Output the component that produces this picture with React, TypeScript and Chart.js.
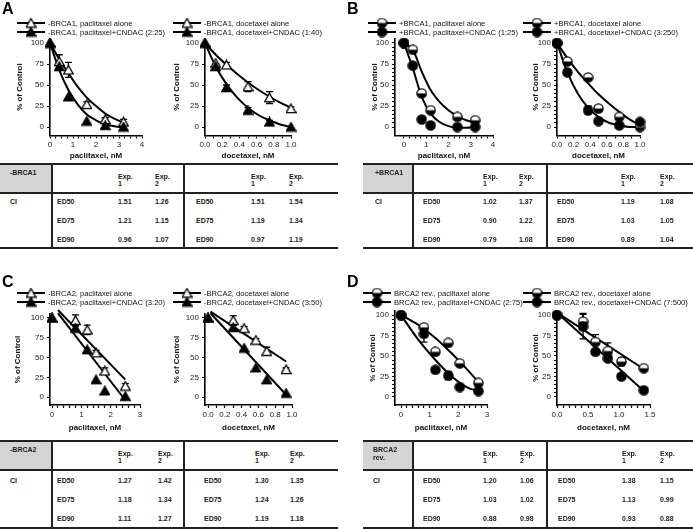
import React, { useEffect, useRef } from 'react';
import { Chart, registerables } from 'chart.js';

Chart.register(...registerables);

const FONT = '"Liberation Sans", Arial, Helvetica, sans-serif';

// ---------------- Panel A (-BRCA1) ----------------
const aPacDose = [0, 0.4, 0.8, 1.6, 2.4, 3.2];
const aPacAlone = [100, 78, 68, 27, 9, 6];
const aPacAloneErr = [0, 8, 9, 3, 2, 3];
const aPacCombo = [100, 72, 36, 7, 2, 0];
const aPacComboErr = [0, 3, 0, 0, 0, 0];
const aPacFitDose = [0, 0.4, 0.8, 1.2, 1.6, 2.0, 2.4, 2.8, 3.2];
const aPacFitAlone = [100, 81, 64, 48, 35, 25, 16, 10, 5];
const aPacFitCombo = [100, 68, 44, 27, 15, 8, 3, 1, -1];

const aDocDose = [0, 0.125, 0.25, 0.5, 0.75, 1.0];
const aDocAlone = [100, 76, 74, 48, 35, 22];
const aDocAloneErr = [0, 0, 3, 6, 7, 2];
const aDocCombo = [100, 72, 47, 20, 6, 0];
const aDocComboErr = [0, 3, 3, 3, 2, 0];
const aDocFitDose = [0, 0.125, 0.25, 0.375, 0.5, 0.625, 0.75, 0.875, 1.0];
const aDocFitAlone = [100, 86, 74, 63, 53, 44, 36, 29, 23];
const aDocFitCombo = [100, 72, 51, 35, 23, 14, 8, 3, 0];

// ---------------- Panel B (+BRCA1) ----------------
const bPacDose = [0, 0.4, 0.8, 1.2, 2.4, 3.2];
const bPacAlone = [100, 92, 40, 20, 12, 8];
const bPacAloneErr = [0, 3, 3, 3, 3, 3];
const bPacCombo = [100, 73, 9, 2, 0, 0];
const bPacComboErr = [0, 3, 3, 2, 0, 0];
const bPacFitDose = [0, 0.4, 0.8, 1.2, 1.6, 2.0, 2.4, 2.8, 3.2];
const bPacFitAlone = [100, 92, 66, 44, 30, 20, 13, 8, 5];
const bPacFitCombo = [100, 70, 36, 16, 6, 1, -1, -1, 0];

const bDocDose = [0, 0.125, 0.375, 0.5, 0.75, 1.0];
const bDocAlone = [100, 78, 59, 22, 12, 0];
const bDocAloneErr = [0, 3, 3, 3, 3, 0];
const bDocCombo = [100, 65, 20, 7, 2, 6];
const bDocComboErr = [0, 3, 5, 2, 0, 0];
const bDocFitDose = [0, 0.125, 0.25, 0.375, 0.5, 0.625, 0.75, 0.875, 1.0];
const bDocFitAlone = [100, 82, 66, 52, 39, 28, 18, 9, 2];
const bDocFitCombo = [100, 65, 40, 23, 12, 5, 2, 0, 0];

// ---------------- Panel C (-BRCA2) ----------------
const cPacDose = [0, 0.8, 1.2, 1.5, 1.8, 2.5];
const cPacAlone = [100, 97, 85, 56, 33, 14];
const cPacAloneErr = [0, 7, 6, 3, 4, 3];
const cPacCombo = [100, 87, 60, 22, 8, 1];
const cPacComboErr = [0, 3, 0, 0, 0, 0];
const cPacFitDose = [0.2, 2.5];
const cPacFitAlone = [110, 22];
const cPacFitCombo = [106, -4];

const cDocDose = [0, 0.3, 0.43, 0.57, 0.7, 0.93];
const cDocAlone = [100, 97, 87, 72, 58, 35];
const cDocAloneErr = [0, 6, 2, 2, 5, 2];
const cDocCombo = [100, 88, 62, 37, 22, 5];
const cDocComboErr = [0, 3, 0, 0, 0, 0];
const cDocFitDose = [0.03, 0.93];
const cDocFitAlone = [108, 45];
const cDocFitCombo = [106, 3];

// ---------------- Panel D (BRCA2 rev.) ----------------
const dPacDose = [0, 0.8, 1.2, 1.65, 2.05, 2.7];
const dPacAlone = [100, 85, 55, 66, 41, 17];
const dPacAloneErr = [0, 3, 0, 4, 3, 3];
const dPacCombo = [100, 77, 33, 26, 12, 7];
const dPacComboErr = [0, 10, 0, 5, 0, 0];
const dPacFitDose = [0, 0.6, 1.2, 1.8, 2.4, 2.7];
const dPacFitAlone = [100, 88, 72, 52, 30, 18];
const dPacFitCombo = [100, 70, 45, 24, 10, 8];

const dDocDose = [0, 0.42, 0.62, 0.82, 1.04, 1.4];
const dDocAlone = [100, 92, 67, 56, 43, 35];
const dDocAloneErr = [0, 10, 9, 10, 5, 0];
const dDocCombo = [100, 86, 55, 47, 25, 8];
const dDocComboErr = [0, 15, 0, 0, 3, 0];
const dDocFitDose = [0, 1.4];
const dDocFitAlone = [103, 34];
const dDocFitCombo = [103, 7];

// ---------------- ticks ----------------
const yTicksPlain = [0, 25, 50, 75, 100];
const yTicksMinor = [0, 5, 10, 15, 20, 25, 30, 35, 40, 45, 50, 55, 60, 65, 70, 75, 80, 85, 90, 95, 100];
const xTicksPac4 = [0, 0.25, 0.5, 0.75, 1, 1.25, 1.5, 1.75, 2, 2.25, 2.5, 2.75, 3, 3.25, 3.5, 3.75, 4];
const xTicksPac3 = [0, 0.2, 0.4, 0.6, 0.8, 1, 1.2, 1.4, 1.6, 1.8, 2, 2.2, 2.4, 2.6, 2.8, 3];
const xTicksDoc1 = [0, 0.1, 0.2, 0.3, 0.4, 0.5, 0.6, 0.7, 0.8, 0.9, 1.0];
const xTicksDoc15 = [0, 0.1, 0.2, 0.3, 0.4, 0.5, 0.6, 0.7, 0.8, 0.9, 1.0, 1.1, 1.2, 1.3, 1.4, 1.5];

// ---------------- tables ----------------
const edLabels = ['ED50', 'ED75', 'ED90'];
const aPacExp1 = ['1.51', '1.21', '0.96'];
const aPacExp2 = ['1.26', '1.15', '1.07'];
const aDocExp1 = ['1.51', '1.19', '0.97'];
const aDocExp2 = ['1.54', '1.34', '1.19'];
const bPacExp1 = ['1.02', '0.90', '0.79'];
const bPacExp2 = ['1.37', '1.22', '1.08'];
const bDocExp1 = ['1.19', '1.03', '0.89'];
const bDocExp2 = ['1.08', '1.05', '1.04'];
const cPacExp1 = ['1.27', '1.18', '1.11'];
const cPacExp2 = ['1.42', '1.34', '1.27'];
const cDocExp1 = ['1.30', '1.24', '1.19'];
const cDocExp2 = ['1.35', '1.26', '1.18'];
const dPacExp1 = ['1.20', '1.03', '0.88'];
const dPacExp2 = ['1.06', '1.02', '0.98'];
const dDocExp1 = ['1.38', '1.13', '0.93'];
const dDocExp2 = ['1.15', '0.99', '0.88'];

type MarkerKind = 'triOpen' | 'triFilled' | 'circHalf' | 'circFilled';

function makeMarker(kind: MarkerKind): HTMLCanvasElement {
  const c = document.createElement('canvas');
  c.width = 11;
  c.height = 11;
  const ctx = c.getContext('2d') as CanvasRenderingContext2D;
  ctx.lineWidth = 1.3;
  ctx.strokeStyle = '#000';
  if (kind === 'triOpen' || kind === 'triFilled') {
    ctx.beginPath();
    ctx.moveTo(5.5, 1);
    ctx.lineTo(10.3, 9.6);
    ctx.lineTo(0.7, 9.6);
    ctx.closePath();
    ctx.fillStyle = kind === 'triOpen' ? '#fff' : '#000';
    ctx.fill();
    ctx.stroke();
  } else {
    ctx.beginPath();
    ctx.arc(5.5, 5.5, 4.6, 0, Math.PI * 2);
    ctx.fillStyle = kind === 'circFilled' ? '#000' : '#fff';
    ctx.fill();
    if (kind === 'circHalf') {
      ctx.beginPath();
      ctx.arc(5.5, 5.5, 4.6, 0, Math.PI);
      ctx.closePath();
      ctx.fillStyle = '#000';
      ctx.fill();
    }
    ctx.beginPath();
    ctx.arc(5.5, 5.5, 4.6, 0, Math.PI * 2);
    ctx.stroke();
  }
  return c;
}

interface Spec {
  box: { left: number; top: number; width: number; height: number };
  plot: { left: number; right: number; top: number; bottom: number };
  yTitleX: number;
  legendX: number;
  legendY: number;
  labels: string[];
  xTitle: string;
  xMin: number;
  xMax: number;
  xTicks: number[];
  xMajor: number;
  xDigits: number;
  yTicks: number[];
  markers: MarkerKind[];
  dose: number[];
  alone: number[];
  aloneErr: number[];
  combo: number[];
  comboErr: number[];
  fitDose: number[];
  fitAlone: number[];
  fitCombo: number[];
}

const Y_MIN = -10;
const Y_MAX = 105;

const specs: Spec[] = [
  {
    box: { left: 0, top: 0, width: 180, height: 161 },
    plot: { left: 50, right: 142, top: 38.8, bottom: 135.4 },
    yTitleX: 20, legendX: 17, legendY: 23,
    labels: ['-BRCA1, paclitaxel alone', '-BRCA1, paclitaxel+CNDAC (2:25)'],
    xTitle: 'paclitaxel, nM', xMin: 0, xMax: 4, xTicks: xTicksPac4, xMajor: 1, xDigits: 0,
    yTicks: yTicksPlain, markers: ['triOpen', 'triFilled'],
    dose: aPacDose, alone: aPacAlone, aloneErr: aPacAloneErr, combo: aPacCombo, comboErr: aPacComboErr,
    fitDose: aPacFitDose, fitAlone: aPacFitAlone, fitCombo: aPacFitCombo,
  },
  {
    box: { left: 172, top: 0, width: 173, height: 161 },
    plot: { left: 205, right: 291, top: 38.8, bottom: 135.4 },
    yTitleX: 177, legendX: 173, legendY: 23,
    labels: ['-BRCA1, docetaxel alone', '-BRCA1, docetaxel+CNDAC (1:40)'],
    xTitle: 'docetaxel, nM', xMin: 0, xMax: 1.0, xTicks: xTicksDoc1, xMajor: 0.2, xDigits: 1,
    yTicks: yTicksPlain, markers: ['triOpen', 'triFilled'],
    dose: aDocDose, alone: aDocAlone, aloneErr: aDocAloneErr, combo: aDocCombo, comboErr: aDocComboErr,
    fitDose: aDocFitDose, fitAlone: aDocFitAlone, fitCombo: aDocFitCombo,
  },
  {
    box: { left: 345, top: 0, width: 185, height: 161 },
    plot: { left: 395, right: 493, top: 38.8, bottom: 135.4 },
    yTitleX: 375, legendX: 368, legendY: 23,
    labels: ['+BRCA1, paclitaxel alone', '+BRCA1, paclitaxel+CNDAC (1:25)'],
    xTitle: 'paclitaxel, nM', xMin: -0.4, xMax: 4, xTicks: xTicksPac4, xMajor: 1, xDigits: 0,
    yTicks: yTicksMinor, markers: ['circHalf', 'circFilled'],
    dose: bPacDose, alone: bPacAlone, aloneErr: bPacAloneErr, combo: bPacCombo, comboErr: bPacComboErr,
    fitDose: bPacFitDose, fitAlone: bPacFitAlone, fitCombo: bPacFitCombo,
  },
  {
    box: { left: 518, top: 0, width: 175, height: 161 },
    plot: { left: 557, right: 640, top: 38.8, bottom: 135.4 },
    yTitleX: 536, legendX: 523, legendY: 23,
    labels: ['+BRCA1, docetaxel alone', '+BRCA1, docetaxel+CNDAC (3:250)'],
    xTitle: 'docetaxel, nM', xMin: 0, xMax: 1.0, xTicks: xTicksDoc1, xMajor: 0.2, xDigits: 1,
    yTicks: yTicksMinor, markers: ['circHalf', 'circFilled'],
    dose: bDocDose, alone: bDocAlone, aloneErr: bDocAloneErr, combo: bDocCombo, comboErr: bDocComboErr,
    fitDose: bDocFitDose, fitAlone: bDocFitAlone, fitCombo: bDocFitCombo,
  },
  {
    box: { left: 0, top: 262, width: 180, height: 171 },
    plot: { left: 50, right: 140, top: 314, bottom: 405 },
    yTitleX: 18, legendX: 17, legendY: 293,
    labels: ['-BRCA2, paclitaxel alone', '-BRCA2, paclitaxel+CNDAC (3:20)'],
    xTitle: 'paclitaxel, nM', xMin: -0.07, xMax: 3, xTicks: xTicksPac3, xMajor: 1, xDigits: 0,
    yTicks: yTicksPlain, markers: ['triOpen', 'triFilled'],
    dose: cPacDose, alone: cPacAlone, aloneErr: cPacAloneErr, combo: cPacCombo, comboErr: cPacComboErr,
    fitDose: cPacFitDose, fitAlone: cPacFitAlone, fitCombo: cPacFitCombo,
  },
  {
    box: { left: 172, top: 262, width: 173, height: 171 },
    plot: { left: 205, right: 292, top: 314, bottom: 405 },
    yTitleX: 177, legendX: 173, legendY: 293,
    labels: ['-BRCA2, docetaxel alone', '-BRCA2, docetaxel+CNDAC (3:50)'],
    xTitle: 'docetaxel, nM', xMin: -0.036, xMax: 1.0, xTicks: xTicksDoc1, xMajor: 0.2, xDigits: 1,
    yTicks: yTicksPlain, markers: ['triOpen', 'triFilled'],
    dose: cDocDose, alone: cDocAlone, aloneErr: cDocAloneErr, combo: cDocCombo, comboErr: cDocComboErr,
    fitDose: cDocFitDose, fitAlone: cDocFitAlone, fitCombo: cDocFitCombo,
  },
  {
    box: { left: 345, top: 262, width: 185, height: 171 },
    plot: { left: 395, right: 487, top: 311, bottom: 405 },
    yTitleX: 373, legendX: 363, legendY: 293,
    labels: ['BRCA2 rev., paclitaxel alone', 'BRCA2 rev., paclitaxel+CNDAC (2:75)'],
    xTitle: 'paclitaxel, nM', xMin: -0.21, xMax: 3, xTicks: xTicksPac3, xMajor: 1, xDigits: 0,
    yTicks: yTicksMinor, markers: ['circHalf', 'circFilled'],
    dose: dPacDose, alone: dPacAlone, aloneErr: dPacAloneErr, combo: dPacCombo, comboErr: dPacComboErr,
    fitDose: dPacFitDose, fitAlone: dPacFitAlone, fitCombo: dPacFitCombo,
  },
  {
    box: { left: 518, top: 262, width: 175, height: 171 },
    plot: { left: 557, right: 650, top: 311, bottom: 405 },
    yTitleX: 536, legendX: 523, legendY: 293,
    labels: ['BRCA2 rev., docetaxel alone', 'BRCA2 rev., docetaxel+CNDAC (7:500)'],
    xTitle: 'docetaxel, nM', xMin: 0, xMax: 1.5, xTicks: xTicksDoc15, xMajor: 0.5, xDigits: 1,
    yTicks: yTicksMinor, markers: ['circHalf', 'circFilled'],
    dose: dDocDose, alone: dDocAlone, aloneErr: dDocAloneErr, combo: dDocCombo, comboErr: dDocComboErr,
    fitDose: dDocFitDose, fitAlone: dDocFitAlone, fitCombo: dDocFitCombo,
  },
];

function isMajor(v: number, step: number) {
  const r = v / step;
  return Math.abs(r - Math.round(r)) < 1e-6;
}

function Plot({ spec }: { spec: Spec }) {
  const ref = useRef<HTMLCanvasElement>(null);
  const b = spec.box;
  useEffect(() => {
    const cv = ref.current as HTMLCanvasElement;
    const titleLeft = spec.yTitleX - 4.8;
    const padLeft = titleLeft - b.left;
    const yW = spec.plot.left - titleLeft;
    const padTop = spec.plot.top - b.top;
    const padRight = b.left + b.width - spec.plot.right;
    const xH = b.top + b.height - spec.plot.bottom;
    const mAlone = makeMarker(spec.markers[0]);
    const mCombo = makeMarker(spec.markers[1]);
    const legendX = spec.legendX - b.left;
    const legendY = spec.legendY - b.top;
    const errs = [spec.comboErr, spec.aloneErr];

    const errorBars = {
      id: 'errorBars',
      beforeDatasetsDraw(chart: any) {
        const { ctx } = chart;
        const xs = chart.scales.x;
        const ys = chart.scales.y;
        [0, 1].forEach((di) => {
          const ds = chart.data.datasets[di];
          const e = errs[di];
          ds.data.forEach((p: any, i: number) => {
            if (!e[i]) return;
            const px = xs.getPixelForValue(p.x);
            const top = ys.getPixelForValue(p.y + e[i]);
            const bot = ys.getPixelForValue(p.y - e[i]);
            ctx.save();
            ctx.strokeStyle = '#000';
            ctx.lineWidth = 1.3;
            ctx.beginPath();
            ctx.moveTo(px, top);
            ctx.lineTo(px, bot);
            ctx.moveTo(px - 3.5, top);
            ctx.lineTo(px + 3.5, top);
            ctx.moveTo(px - 3.5, bot);
            ctx.lineTo(px + 3.5, bot);
            ctx.stroke();
            ctx.restore();
          });
        });
      },
    };

    const lineLegend = {
      id: 'lineLegend',
      afterDraw(chart: any) {
        const { ctx } = chart;
        [mAlone, mCombo].forEach((m, i) => {
          const yy = legendY + i * 9;
          ctx.save();
          ctx.strokeStyle = '#000';
          ctx.lineWidth = 2;
          ctx.beginPath();
          ctx.moveTo(legendX, yy);
          ctx.lineTo(legendX + 28, yy);
          ctx.stroke();
          ctx.drawImage(m, legendX + 14 - m.width / 2, yy - m.height / 2);
          ctx.fillStyle = '#111';
          ctx.font = `7.6px ${FONT}`;
          ctx.textBaseline = 'middle';
          ctx.fillText(spec.labels[i], legendX + 31, yy + 0.5);
          ctx.restore();
        });
      },
    };

    const pts = (xs: number[], ys: number[]) => xs.map((x, i) => ({ x, y: ys[i] }));

    const chart = new Chart(cv, {
      type: 'scatter',
      data: {
        datasets: [
          {
            label: spec.labels[1],
            data: pts(spec.dose, spec.combo),
            pointStyle: mCombo,
            pointRadius: 5,
            showLine: false,
            clip: false,
          },
          {
            label: spec.labels[0],
            data: pts(spec.dose, spec.alone),
            pointStyle: mAlone,
            pointRadius: 5,
            showLine: false,
            clip: false,
          },
          {
            label: 'fit alone',
            data: pts(spec.fitDose, spec.fitAlone),
            showLine: true,
            pointRadius: 0,
            borderColor: '#000',
            borderWidth: 2,
            cubicInterpolationMode: 'monotone',
            fill: false,
            clip: false,
          },
          {
            label: 'fit combo',
            data: pts(spec.fitDose, spec.fitCombo),
            showLine: true,
            pointRadius: 0,
            borderColor: '#000',
            borderWidth: 2,
            cubicInterpolationMode: 'monotone',
            fill: false,
            clip: false,
          },
        ] as any,
      },
      options: {
        animation: false,
        responsive: false,
        maintainAspectRatio: false,
        events: [],
        layout: { padding: { left: padLeft, top: padTop, right: padRight, bottom: 0 } },
        plugins: { legend: { display: false }, tooltip: { enabled: false } },
        scales: {
          x: {
            type: 'linear',
            position: 'bottom',
            min: spec.xMin,
            max: spec.xMax,
            afterBuildTicks: (scale: any) => {
              scale.ticks = spec.xTicks.map((v) => ({ value: v }));
            },
            afterFit: (scale: any) => {
              scale.height = xH;
            },
            ticks: {
              autoSkip: false,
              maxRotation: 0,
              minRotation: 0,
              padding: 2,
              color: '#222',
              font: { family: FONT, size: 8 },
              callback: (v: any) => (isMajor(Number(v), spec.xMajor) ? Number(v).toFixed(spec.xDigits) : ''),
            },
            grid: { display: true, drawOnChartArea: false, drawTicks: true, tickLength: 3, tickColor: '#000', tickWidth: 1.2 },
            border: { display: true, color: '#000', width: 1.6 },
            title: { display: true, text: spec.xTitle, color: '#111', padding: 0, font: { family: FONT, size: 8, weight: 'bold', lineHeight: 1.2 } },
          },
          y: {
            type: 'linear',
            position: 'left',
            min: Y_MIN,
            max: Y_MAX,
            afterBuildTicks: (scale: any) => {
              scale.ticks = spec.yTicks.map((v) => ({ value: v }));
            },
            afterFit: (scale: any) => {
              scale.width = yW;
            },
            ticks: {
              autoSkip: false,
              padding: 3,
              color: '#222',
              font: { family: FONT, size: 8 },
              callback: (v: any) => (isMajor(Number(v), 25) ? String(v) : ''),
            },
            grid: { display: true, drawOnChartArea: false, drawTicks: true, tickLength: 3, tickColor: '#000', tickWidth: 1.2 },
            border: { display: true, color: '#000', width: 1.6 },
            title: { display: true, text: '% of Control', color: '#111', padding: 0, font: { family: FONT, size: 8, weight: 'bold', lineHeight: 1.2 } },
          },
        },
      } as any,
      plugins: [errorBars, lineLegend],
    });
    return () => chart.destroy();
  }, []);
  return (
    <canvas
      ref={ref}
      width={b.width}
      height={b.height}
      style={{ position: 'absolute', left: b.left, top: b.top, width: b.width, height: b.height }}
    />
  );
}

interface TableSpec {
  left: number;
  top: number;
  width: number;
  headSep: number;
  bottom: number;
  c1: number;
  c4: number;
  ed1: number;
  e1a: number;
  e2a: number;
  ed2: number;
  e1b: number;
  e2b: number;
  rows: number[];
  label: string[];
  labelX: number;
  pac1: string[];
  pac2: string[];
  doc1: string[];
  doc2: string[];
}

const tables: TableSpec[] = [
  { left: 0, top: 164, width: 338, headSep: 193, bottom: 248, c1: 52, c4: 184, ed1: 57, e1a: 118, e2a: 155, ed2: 196, e1b: 251, e2b: 289,
    rows: [202, 221, 240], label: ['-BRCA1'], labelX: 10, pac1: aPacExp1, pac2: aPacExp2, doc1: aDocExp1, doc2: aDocExp2 },
  { left: 363, top: 164, width: 330, headSep: 193, bottom: 248, c1: 413, c4: 547, ed1: 423, e1a: 483, e2a: 519, ed2: 557, e1b: 621, e2b: 660,
    rows: [202, 221, 240], label: ['+BRCA1'], labelX: 375, pac1: bPacExp1, pac2: bPacExp2, doc1: bDocExp1, doc2: bDocExp2 },
  { left: 0, top: 441, width: 338, headSep: 470, bottom: 528, c1: 52, c4: 184, ed1: 57, e1a: 118, e2a: 158, ed2: 204, e1b: 255, e2b: 290,
    rows: [481, 500, 519], label: ['-BRCA2'], labelX: 10, pac1: cPacExp1, pac2: cPacExp2, doc1: cDocExp1, doc2: cDocExp2 },
  { left: 363, top: 441, width: 330, headSep: 470, bottom: 528, c1: 413, c4: 547, ed1: 423, e1a: 483, e2a: 520, ed2: 558, e1b: 622, e2b: 660,
    rows: [481, 500, 519], label: ['BRCA2', 'rev.'], labelX: 373, pac1: dPacExp1, pac2: dPacExp2, doc1: dDocExp1, doc2: dDocExp2 },
];

const txtStyle: React.CSSProperties = {
  position: 'absolute',
  fontFamily: FONT,
  fontSize: 7,
  fontWeight: 'bold',
  color: '#222',
  lineHeight: '8px',
  whiteSpace: 'nowrap',
};

function CITable({ t }: { t: TableSpec }) {
  const els: React.ReactNode[] = [];
  const line = '#222';
  const T = (x: number, y: number, s: string, k: string) =>
    els.push(<div key={k} style={{ ...txtStyle, left: x, top: y - 4 }}>{s}</div>);
  els.push(<div key="g" style={{ position: 'absolute', left: t.left, top: t.top, width: t.c1 - t.left, height: t.headSep - t.top, background: '#d4d4d4' }} />);
  els.push(<div key="h1" style={{ position: 'absolute', left: t.left, top: t.top - 1, width: t.width, height: 2, background: line }} />);
  els.push(<div key="h2" style={{ position: 'absolute', left: t.left, top: t.headSep - 1, width: t.width, height: 2, background: line }} />);
  els.push(<div key="h3" style={{ position: 'absolute', left: t.left, top: t.bottom - 1, width: t.width, height: 2, background: line }} />);
  els.push(<div key="v1" style={{ position: 'absolute', left: t.c1 - 1, top: t.top, width: 2, height: t.bottom - t.top, background: line }} />);
  els.push(<div key="v2" style={{ position: 'absolute', left: t.c4 - 1, top: t.top, width: 2, height: t.bottom - t.top, background: line }} />);
  t.label.forEach((s, i) => T(t.labelX, t.top + 9 + i * 8, s, 'lab' + i));
  [[t.e1a, '1'], [t.e2a, '2'], [t.e1b, '1'], [t.e2b, '2']].forEach(([x, n], i) => {
    T(x as number, t.top + 13, 'Exp.', 'ex' + i);
    T(x as number, t.top + 20, n as string, 'en' + i);
  });
  T(t.labelX, t.rows[0], 'CI', 'ci');
  edLabels.forEach((ed, i) => {
    T(t.ed1, t.rows[i], ed, 'ea' + i);
    T(t.ed2, t.rows[i], ed, 'eb' + i);
    T(t.e1a, t.rows[i], t.pac1[i], 'p1' + i);
    T(t.e2a, t.rows[i], t.pac2[i], 'p2' + i);
    T(t.e1b, t.rows[i], t.doc1[i], 'd1' + i);
    T(t.e2b, t.rows[i], t.doc2[i], 'd2' + i);
  });
  return <>{els}</>;
}

const letters = [
  { s: 'A', x: 2, y: -1 },
  { s: 'B', x: 347, y: -1 },
  { s: 'C', x: 2, y: 272 },
  { s: 'D', x: 347, y: 272 },
];

export default function App() {
  return (
    <div style={{ position: 'absolute', left: 0, top: 0, width: 693, height: 529, background: '#fff', overflow: 'hidden' }}>
      {specs.map((s, i) => (
        <Plot key={i} spec={s} />
      ))}
      {tables.map((t, i) => (
        <CITable key={i} t={t} />
      ))}
      {letters.map((l) => (
        <div key={l.s} style={{ position: 'absolute', left: l.x, top: l.y, fontFamily: FONT, fontWeight: 'bold', fontSize: 16, lineHeight: '19px', color: '#000' }}>
          {l.s}
        </div>
      ))}
    </div>
  );
}
